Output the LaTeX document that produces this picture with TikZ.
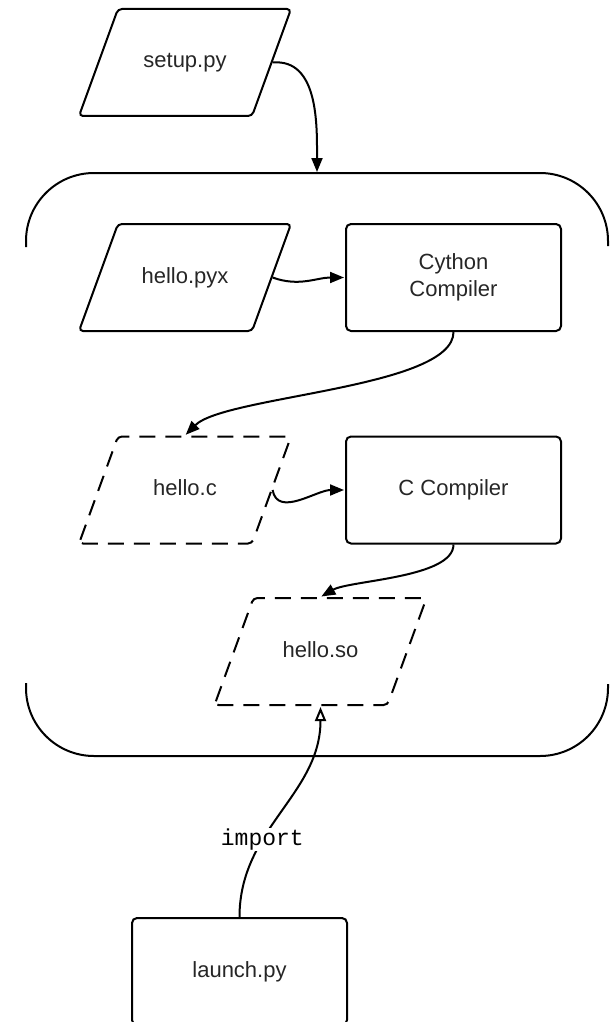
\documentclass[tikz,border=0pt]{standalone}
\usepackage{fontspec}
\setmainfont{Liberation Sans}
\setmonofont{Liberation Mono}
\usetikzlibrary{arrows.meta,shapes.geometric}

\begin{document}
\begin{tikzpicture}[x=1pt,y=1pt,>={Triangle[length=14pt,width=11pt]},shorten >=1pt,
    line width=2pt,
    file node/.style={trapezium,trapezium left angle=70,trapezium right angle=110,
      trapezium stretches body,draw,rounded corners=4pt,minimum width=212pt,
      inner ysep=43pt,text height=16pt,text depth=5pt,
      text=black!85,font=\fontsize{22}{27}\selectfont},
    temp node/.style={file node,dash pattern=on 16pt off 10pt},
    tool node/.style={rectangle,draw,rounded corners=5pt,minimum width=215pt,
      minimum height=107pt,align=center,text=black!85,font=\fontsize{22}{27}\selectfont}]
    \useasboundingbox (0,0) rectangle (612,-1022);
    \node[file node] (setup) at (185,-62.5) {setup.py};
    \node[inner sep=0pt,outer sep=0pt,minimum width=582pt,minimum height=583pt] (build) at (317,-464.5) {};
    \node[file node] (pyx) at (185,-277.5) {hello.pyx};
    \node[tool node] (cython) at (453.5,-277.5) {Cython\\Compiler};
    \node[temp node] (helloc) at (185,-490) {hello.c};
    \node[tool node] (ccomp) at (453.5,-490) {C Compiler};
    \node[temp node] (so) at (320.5,-651.5) {hello.so};
    \node[tool node] (launch) at (239.5,-971.5) {launch.py};
    % open bracket round the build
    \draw[rounded corners=68pt] ([yshift=-74pt]build.north west) -- (build.north west)
      -- (build.north east) -- ([yshift=-74pt]build.north east);
    \draw[rounded corners=68pt] ([yshift=73pt]build.south west) -- (build.south west)
      -- (build.south east) -- ([yshift=73pt]build.south east);
    \path[->]
    (setup.east) edge [out=5,in=90] (build.north)
    (pyx.east) edge [out=-20,in=180] (cython.west)
    (cython.south) edge [out=-90,in=45,looseness=0.5] (helloc.north)
    (helloc.east) edge [out=-80,in=180] (ccomp.west)
    (ccomp.south) edge [out=-90,in=30,looseness=0.6] (so.north);
    \path (launch.north) edge [-{Triangle[open,length=14pt,width=11pt]},out=90,in=-90]
      node [pos=0.35,fill=white,inner sep=1pt,font=\ttfamily\fontsize{23}{27}\selectfont] {import} (so.south);
\end{tikzpicture}
\end{document}
